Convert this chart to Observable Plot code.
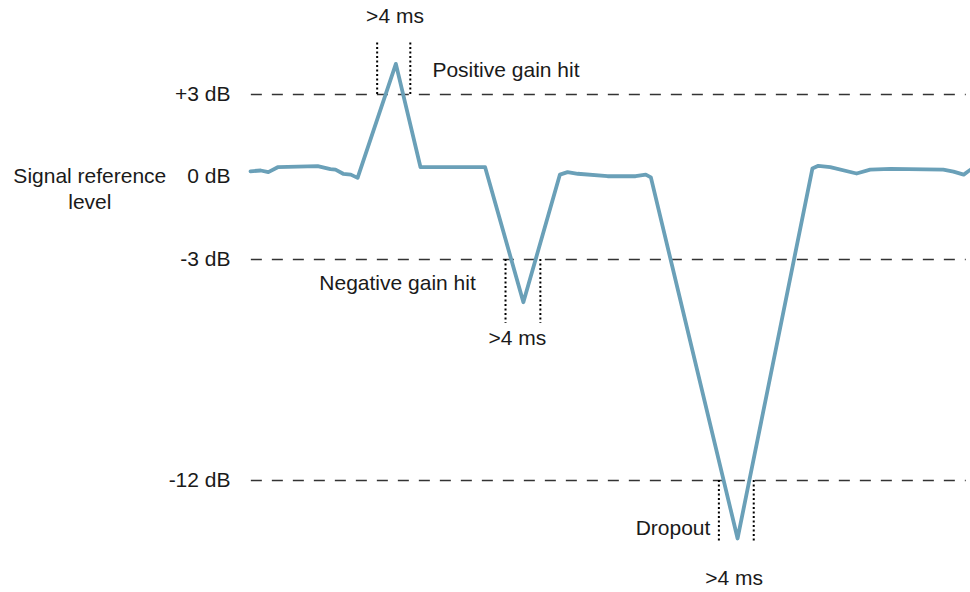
<!DOCTYPE html>
<html>
<head>
<meta charset="utf-8">
<script src="https://cdn.jsdelivr.net/npm/d3@7"></script>
<script src="https://cdn.jsdelivr.net/npm/@observablehq/plot@0.6"></script>
<style>
  html, body { margin: 0; padding: 0; background: #fff; }
  svg { display: block; }
</style>
</head>
<body>
<div id="chart"></div>
<script>
// Signal level over time (t in ms, level in dB)
const timeMs = [0, 1.2, 2.1, 3.2, 7.9, 9.4, 10, 10.9, 11.8, 12.6, 17.1, 20, 27.6, 32.1, 36.4, 37.3, 38.5, 42, 45.3, 46.5, 47.1, 57.3, 66.1, 66.8, 68.2, 71.3, 72.9, 75.3, 81.5, 82.7, 83.9, 84.7];
const levelDb = [0.19, 0.22, 0.16, 0.34, 0.38, 0.27, 0.25, 0.10, 0.07, -0.05, 4.12, 0.34, 0.34, -4.74, 0.07, 0.16, 0.10, 0.01, 0.01, 0.07, -0.03, -14.36, 0.29, 0.39, 0.34, 0.11, 0.25, 0.28, 0.25, 0.18, 0.07, 0.25];

// Threshold levels
const tickValues = [3, 0, -3, -12];
const tickLabels = ["+3 dB", "0 dB", "-3 dB", "-12 dB"];
const dashedLevels = [3, -3, -12];

// Duration markers (>4 ms windows)
const markerStart = [14.9, 30.0, 55.1];
const markerEnd = [18.8, 34.1, 59.2];
const markerFrom = [3, -3, -12];
const markerTo = [4.9, -5.6, -14.57];

// Annotations
const noteText = [">4 ms", "Positive gain hit", "Negative gain hit", ">4 ms", "Dropout", ">4 ms", "Signal reference", "level"];
const noteTime = [17.0, 21.4, 26.5, 31.4, 54.1, 56.9, -18.9, -18.9];
const noteDb = [5.85, 3.88, -3.98, -6.22, -13.95, -15.99, 0, -0.92];
const noteAnchor = ["middle", "start", "end", "middle", "end", "middle", "middle", "middle"];

const signal = timeMs.map((t, i) => ({t, db: levelDb[i]}));
const markers = [];
markerStart.forEach((s, i) => {
  markers.push({t: s, y1: markerFrom[i], y2: markerTo[i]});
  markers.push({t: markerEnd[i], y1: markerFrom[i], y2: markerTo[i]});
});
const notes = noteText.map((text, i) => ({text, t: noteTime[i], db: noteDb[i], anchor: noteAnchor[i]}));

const font = "Liberation Sans, Arial, Helvetica, sans-serif";
const fs = 21;

const chart = Plot.plot({
  width: 970,
  height: 592,
  marginLeft: 250,
  marginRight: 0,
  marginTop: 0,
  marginBottom: 0,
  style: {fontFamily: font, fontSize: fs + "px", color: "#1a1a1a", background: "#fff"},
  x: {type: "linear", domain: [0, 84.7], axis: null},
  y: {type: "linear", domain: [-12, -3, 0, 3], range: [480, 259, 176, 94], axis: null},
  marks: [
    Plot.ruleY(dashedLevels, {y: d => d, x1: 0.1, x2: 84.2, stroke: "#333", strokeWidth: 1.4, strokeDasharray: "11,10"}),
    Plot.axisY(tickValues, {anchor: "left", tickSize: 0, tickPadding: 20, tickFormat: (d) => tickLabels[tickValues.indexOf(d)], fontSize: fs, fill: "#1a1a1a", label: null}),
    Plot.ruleX(markers, {x: "t", y1: "y1", y2: "y2", stroke: "#000", strokeWidth: 2, strokeDasharray: "2,2.5"}),
    Plot.line(signal, {x: "t", y: "db", stroke: "#6aa0b8", strokeWidth: 3.8, strokeLinejoin: "round", strokeLinecap: "round"}),
    ...["start", "middle", "end"].map(a =>
      Plot.text(notes.filter(n => n.anchor === a), {x: "t", y: "db", text: "text", textAnchor: a, fontSize: fs, fill: "#1a1a1a"})
    )
  ]
});
document.getElementById("chart").appendChild(chart);
</script>
</body>
</html>
